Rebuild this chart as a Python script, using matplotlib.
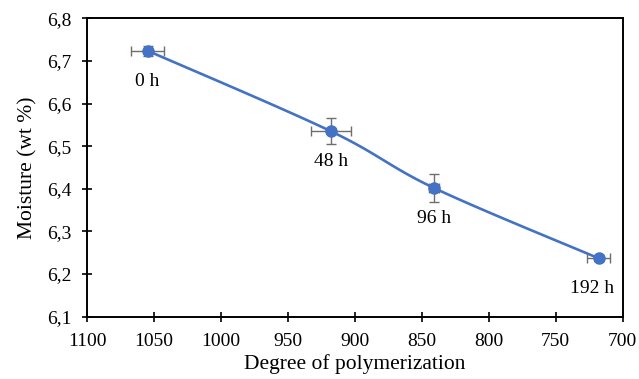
import numpy as np
import matplotlib
matplotlib.use('Agg')
import matplotlib.pyplot as plt
from matplotlib.ticker import FuncFormatter

# data
dp = [1055, 918, 841, 718]
moisture = [6.724, 6.535, 6.402, 6.237]
dp_err = [12, 15, 4, 8.5]
moisture_err = [0.012, 0.03, 0.033, 0.006]
labels = ['0 h', '48 h', '96 h', '192 h']

x_ticks = [1100, 1050, 1000, 950, 900, 850, 800, 750, 700]
y_ticks = [6.1, 6.2, 6.3, 6.4, 6.5, 6.6, 6.7, 6.8]


def smooth(xs, ys, n=40):
    # Catmull-Rom style bezier, like Excel's smoothed line
    p = np.column_stack([xs, ys]).astype(float)
    out = []
    for i in range(len(p) - 1):
        p0 = p[i - 1] if i > 0 else p[i]
        p3 = p[i + 2] if i + 2 < len(p) else p[i + 1]
        c1 = p[i] + (p[i + 1] - p0) / 6
        c2 = p[i + 1] - (p3 - p[i]) / 6
        t = np.linspace(0, 1, n)[:, None]
        seg = ((1 - t) ** 3 * p[i] + 3 * (1 - t) ** 2 * t * c1
               + 3 * (1 - t) * t ** 2 * c2 + t ** 3 * p[i + 1])
        out.append(seg)
    out = np.vstack(out)
    return out[:, 0], out[:, 1]


def main():
    plt.rcParams['font.family'] = ['Liberation Serif', 'DejaVu Serif']

    fig = plt.figure(figsize=(6.39, 3.79), dpi=100)
    ax = fig.add_axes([0.1366, 0.1644, 0.8379, 0.7873])

    blue = '#4472C4'
    sx, sy = smooth(dp, moisture)
    ax.plot(sx, sy, color=blue, linewidth=1.9, zorder=2)
    ax.errorbar(dp, moisture, xerr=dp_err, yerr=moisture_err, fmt='none',
                ecolor='#6e6e6e', elinewidth=1.0, capsize=3.5, capthick=1.0, zorder=3)
    ax.plot(dp, moisture, 'o', color=blue, markersize=8, zorder=4)

    offsets = [(0, -22), (0, -22), (0, -22), (-5, -22)]
    for x, y, lab, off in zip(dp, moisture, labels, offsets):
        ax.annotate(lab, (x, y), xytext=off, textcoords='offset points',
                    ha='center', va='center', fontsize=14)

    ax.set_xlim(1100, 700)
    ax.set_ylim(6.1, 6.8)
    ax.set_xticks(x_ticks)
    ax.set_yticks(y_ticks)
    ax.yaxis.set_major_formatter(FuncFormatter(lambda v, p: f'{v:.1f}'.replace('.', ',')))
    ax.tick_params(direction='inout', length=7, width=1.2, labelsize=14)
    ax.tick_params(axis='x', pad=8)
    ax.tick_params(axis='y', pad=8)

    for s in ax.spines.values():
        s.set_linewidth(1.4)
        s.set_color('black')

    ax.set_xlabel('Degree of polymerization', fontsize=15.5, labelpad=3)
    ax.set_ylabel('Moisture (wt %)', fontsize=15.5, labelpad=7)

    fig.savefig('out.png', dpi=100)


if __name__ == '__main__':
    main()
